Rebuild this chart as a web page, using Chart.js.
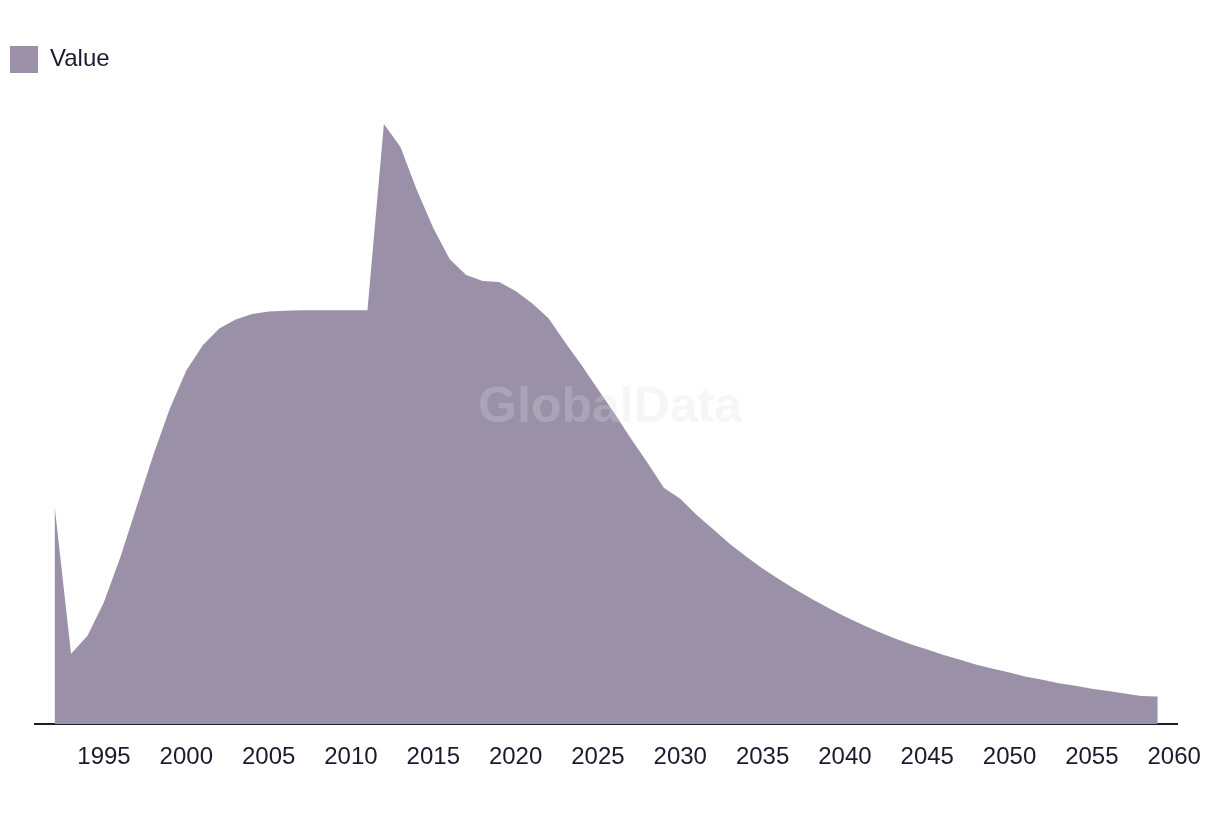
<!DOCTYPE html>
<html>
<head>
<meta charset="utf-8">
<script src="https://cdn.jsdelivr.net/npm/chart.js@4"></script>
<style>
  html, body { margin: 0; padding: 0; background: #ffffff; }
  #wrap { width: 1220px; height: 814px; }
</style>
</head>
<body>
<div id="wrap"><canvas id="myChart" width="1220" height="814"></canvas></div>
<script>
// years on the x axis
var years = [1992, 1993, 1994, 1995, 1996, 1997, 1998, 1999, 2000, 2001,
  2002, 2003, 2004, 2005, 2006, 2007, 2008, 2009, 2010, 2011,
  2012, 2013, 2014, 2015, 2016, 2017, 2018, 2019, 2020, 2021,
  2022, 2023, 2024, 2025, 2026, 2027, 2028, 2029, 2030, 2031,
  2032, 2033, 2034, 2035, 2036, 2037, 2038, 2039, 2040, 2041,
  2042, 2043, 2044, 2045, 2046, 2047, 2048, 2049, 2050, 2051,
  2052, 2053, 2054, 2055, 2056, 2057, 2058, 2059];

// values
var values = [36.3, 11.7, 14.7, 20.3, 27.8, 36.3, 44.8, 52.5, 58.8, 63.0,
  65.8, 67.3, 68.2, 68.6, 68.75, 68.8, 68.8, 68.8, 68.8, 68.8,
  99.8, 96.0, 88.8, 82.5, 77.3, 74.7, 73.7, 73.5, 72.0, 70.0,
  67.5, 63.5, 59.7, 55.7, 51.7, 47.5, 43.5, 39.3, 37.5, 34.8,
  32.4, 30.0, 27.9, 25.9, 24.1, 22.4, 20.8, 19.3, 17.9, 16.6,
  15.4, 14.3, 13.3, 12.4, 11.5, 10.7, 9.9, 9.2, 8.6, 7.9,
  7.4, 6.8, 6.4, 5.9, 5.5, 5.1, 4.7, 4.6];

// tick labels
var tickYears = [1995, 2000, 2005, 2010, 2015, 2020, 2025, 2030, 2035, 2040, 2045, 2050, 2055, 2060];

var seriesName = 'Value';
var fillColor = '#9a91a9';
var textColor = '#1b1a2e';
var fontFamily = '"Liberation Sans", Arial, sans-serif';

// watermark in the middle of the plot
var watermark = {
  id: 'watermark',
  afterDatasetsDraw: function(chart) {
    var ctx = chart.ctx;
    var area = chart.chartArea;
    ctx.save();
    ctx.font = 'bold 50px ' + fontFamily;
    ctx.fillStyle = 'rgba(220, 220, 224, 0.26)';
    ctx.textAlign = 'center';
    ctx.textBaseline = 'middle';
    ctx.fillText('GlobalData', (area.left + area.right) / 2 + 4, (area.top + area.bottom) / 2 + 5);
    ctx.restore();
  }
};

var ctx = document.getElementById('myChart').getContext('2d');
var myChart = new Chart(ctx, {
  type: 'line',
  data: {
    datasets: [{
      label: seriesName,
      data: years.map(function(y, i) { return { x: y, y: values[i] }; }),
      backgroundColor: fillColor,
      borderColor: fillColor,
      borderWidth: 0,
      pointRadius: 0,
      tension: 0,
      fill: 'origin'
    }]
  },
  options: {
    responsive: false,
    animation: false,
    layout: { padding: { top: 36, right: 42, bottom: 23, left: 0 } },
    plugins: {
      tooltip: { enabled: false },
      legend: {
        display: true,
        position: 'top',
        align: 'start',
        labels: {
          boxWidth: 28,
          boxHeight: 27,
          color: textColor,
          font: { family: fontFamily, size: 24 },
          padding: 10
        }
      }
    },
    scales: {
      x: {
        type: 'linear',
        min: 1990.81,
        max: 2060.18,
        grid: { display: false, drawTicks: false },
        border: { display: true, color: textColor, width: 2 },
        afterBuildTicks: function(scale) {
          scale.ticks = tickYears.map(function(v) { return { value: v }; });
        },
        ticks: {
          color: textColor,
          padding: 19,
          maxRotation: 0,
          autoSkip: false,
          font: { family: fontFamily, size: 24 },
          callback: function(v) { return String(v); }
        }
      },
      y: {
        min: 0,
        max: 106.6,
        grid: { display: false, drawTicks: false },
        border: { display: false },
        ticks: { display: false },
        afterFit: function(scale) { scale.width = 35; }
      }
    }
  },
  plugins: [watermark]
});
</script>
</body>
</html>
